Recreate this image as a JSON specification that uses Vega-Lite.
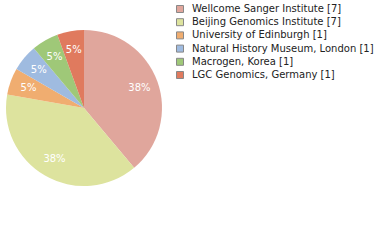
{
  "$schema": "https://vega.github.io/schema/vega-lite/v6.json",
  "autosize": "none",
  "width": 168,
  "height": 216,
  "padding": {"left": 0, "top": 0, "right": 212, "bottom": 24},
  "background": "white",
  "config": {"view": {"stroke": null}, "font": "DejaVu Sans"},
  "data": {"values": [
    {"name": "Wellcome Sanger Institute [7]", "count": 7, "idx": 1, "label": "38%"},
    {"name": "Beijing Genomics Institute [7]", "count": 7, "idx": 2, "label": "38%"},
    {"name": "University of Edinburgh [1]", "count": 1, "idx": 3, "label": "5%"},
    {"name": "Natural History Museum, London [1]", "count": 1, "idx": 4, "label": "5%"},
    {"name": "Macrogen, Korea [1]", "count": 1, "idx": 5, "label": "5%"},
    {"name": "LGC Genomics, Germany [1]", "count": 1, "idx": 6, "label": "5%"}
  ]},
  "encoding": {
    "theta": {"field": "count", "type": "quantitative", "stack": true},
    "order": {"field": "idx", "type": "quantitative"}
  },
  "layer": [
    {
      "mark": {"type": "arc", "outerRadius": 78},
      "encoding": {
        "color": {
          "field": "name", "type": "nominal",
          "scale": {
            "domain": ["Wellcome Sanger Institute [7]", "Beijing Genomics Institute [7]", "University of Edinburgh [1]", "Natural History Museum, London [1]", "Macrogen, Korea [1]", "LGC Genomics, Germany [1]"],
            "range": ["#e0a69c", "#dde39e", "#f0ad70", "#9fbbe0", "#9fc878", "#e07a5e"]
          },
          "legend": {
            "title": null, "orient": "none", "legendX": 175, "legendY": 4,
            "symbolType": "square", "symbolSize": 49, "symbolStrokeWidth": 1,
            "symbolStrokeColor": "#888", "labelFontSize": 10, "labelColor": "#222",
            "rowPadding": 1.2, "labelOffset": 7, "labelLimit": 300
          }
        }
      }
    },
    {
      "mark": {"type": "text", "radius": 59, "color": "white", "fontSize": 10},
      "encoding": {"text": {"field": "label"}}
    }
  ]
}
